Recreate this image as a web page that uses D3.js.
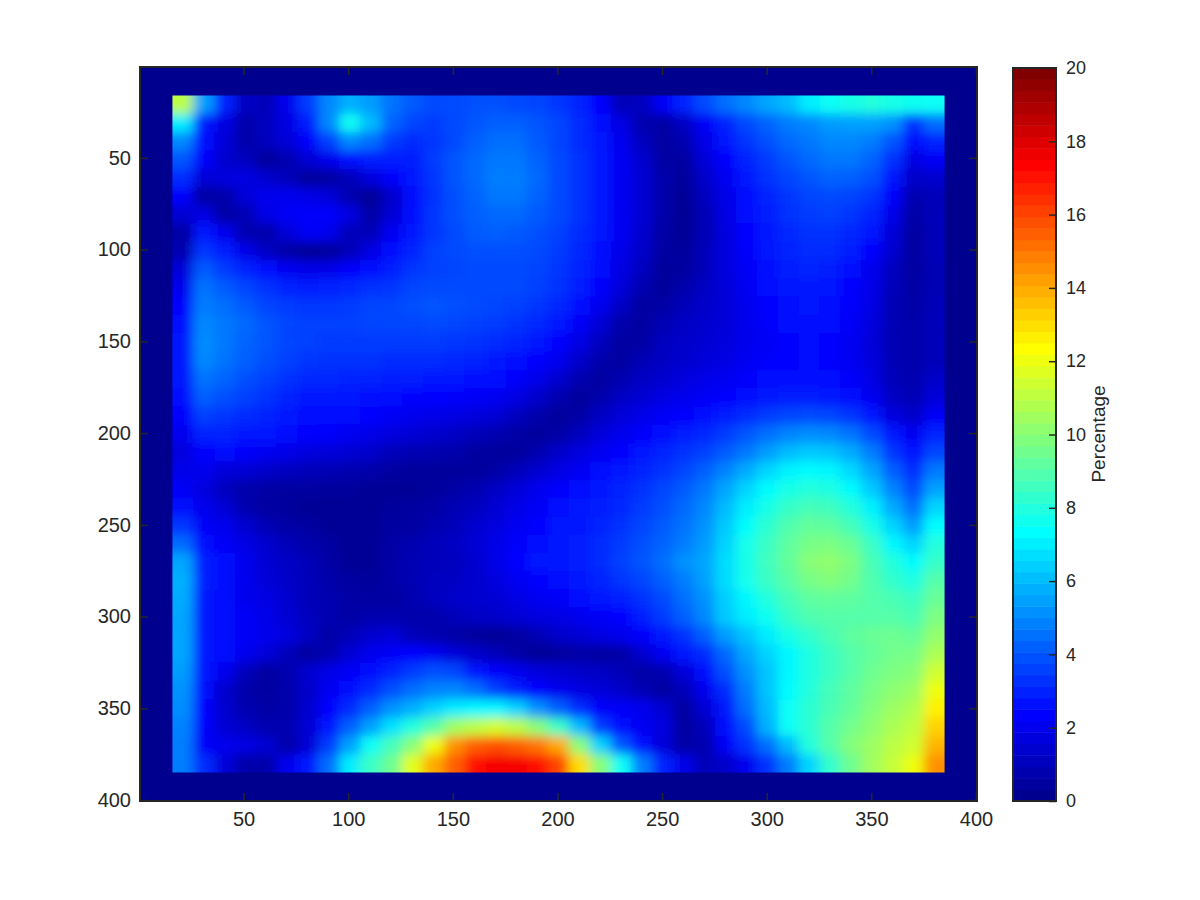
<!DOCTYPE html>
<html><head><meta charset="utf-8">
<script src="https://cdn.jsdelivr.net/npm/d3@7"></script>
<style>html,body{margin:0;background:#fff}svg{display:block}text{font-family:"Liberation Sans",Arial,sans-serif;fill:#262626}</style>
</head><body><svg id="c" width="1200" height="900"></svg>
<script>
const xTicks=[50,100,150,200,250,300,350,400];
const yTicks=[50,100,150,200,250,300,350,400];
const cbTicks=[0,2,4,6,8,10,12,14,16,18,20];
const cbLabel="Percentage";
const jetStops=[0.156,2.34,7.34,12.34,17.34,19.84];
const jetColors=["#00008f","#0000ff","#00ffff","#ffff00","#ff0000","#800000"];
const gridRows=[
[11,5.5,3,1.2,1,2,3.5,5,5.8,5.4,4.6,4.1,3.8,3.8,3.9,3.9,3.8,3.7,3.4,3,2.3,1,1.1,2.2,3,3.8,4.5,5,5.6,6,7,7.5,7.8,8,7.8,7.6,7.5],
[7,2.8,1.8,.7,1.1,1.8,2.9,5,7.6,6,4.3,3.7,3.5,3.8,4,4.2,4.2,4,3.7,3.2,2.6,1.8,.8,.6,1.2,2.2,3,3.8,4.3,4.8,5,5.4,5.5,5.5,5.2,3.3,4.5],
[5,2.6,1.6,.7,1.1,1.6,2.3,3.6,5,4.5,3.5,3.2,3.4,3.8,4.2,4.5,4.5,4.1,3.7,3.2,2.8,2,1.1,.5,.8,1.9,2.7,3.4,3.9,4.4,4.7,5,5,4.8,4,2.6,3],
[4,2.3,1.4,1.1,.4,.8,1.5,2,2.6,2.9,2.9,2.9,3.5,4,4.4,4.7,4.7,4.3,3.8,3.3,2.8,2.1,1.4,.6,.5,1.6,2.4,3,3.5,4,4.4,4.7,4.7,4.3,3.3,1.8,2.2],
[3.2,1.6,1.7,1.8,1.4,1,.4,.5,1,1.7,2.3,2.7,3.4,4,4.4,4.8,4.8,4.4,3.8,3.3,2.8,2.1,1.5,.7,.4,1.3,2.1,2.8,3.3,3.7,4,4.3,4.2,3.9,2.8,1.3,1.4],
[2.3,.5,.7,1.6,2,2,1.9,1.6,.8,.3,1.3,2.5,3.3,3.9,4.3,4.7,4.7,4.3,3.8,3.3,2.8,2.1,1.5,.7,.3,1.1,1.9,2.6,3,3.4,3.7,3.8,3.7,3.4,2.3,.8,1],
[1.5,1.8,.6,.9,1.9,2.2,2.3,2.3,1.8,.6,1.5,2.6,3.4,3.9,4.2,4.4,4.4,4.1,3.8,3.3,2.8,2.1,1.5,.7,.3,.9,1.8,2.5,2.9,3.3,3.5,3.6,3.4,3,1.9,.6,1],
[.6,2.8,2,.8,.7,1.6,2.2,2,1,1,2.1,2.8,3.4,3.8,4.1,4.2,4.1,3.9,3.6,3.2,2.7,2.1,1.4,.6,.3,.9,1.7,2.4,2.8,3.1,3.3,3.3,3.1,2.7,1.6,.5,1],
[.8,3.4,2.9,1.9,1.2,.6,.3,.4,1,1.8,2.6,3,3.6,3.8,3.9,3.9,3.9,3.8,3.5,3.1,2.6,1.9,1.3,.5,.4,1,1.7,2.3,2.7,3,3.2,3.2,2.9,2.4,1.4,.5,1],
[1.6,4.1,3.5,3,2.6,2.1,1.9,1.9,2.3,2.6,2.9,3.4,3.6,3.7,3.8,3.8,3.8,3.7,3.4,3,2.5,1.8,1.1,.4,.5,1,1.7,2.2,2.6,2.9,3,2.9,2.6,2,1.1,.5,.9],
[2,4.6,4.1,3.7,3.3,3,2.9,3,3.1,3.3,3.4,3.7,3.8,3.8,3.8,3.8,3.8,3.6,3.3,2.9,2.3,1.6,.8,.4,.7,1.2,1.6,2.1,2.5,2.7,2.8,2.7,2.4,1.9,1,.6,.9],
[2.3,4.8,4.5,4.1,3.7,3.5,3.4,3.4,3.5,3.7,3.7,3.9,4,3.9,3.8,3.7,3.6,3.4,3.1,2.6,2,1.2,.5,.6,1,1.3,1.6,2,2.4,2.6,2.7,2.6,2.3,1.8,.9,.6,1],
[2.6,5,4.7,4.4,4,3.7,3.6,3.6,3.6,3.7,3.7,3.7,3.8,3.7,3.6,3.5,3.3,3.1,2.8,2.2,1.5,.7,.5,.9,1.2,1.4,1.6,2,2.3,2.5,2.6,2.5,2.2,1.7,.9,.7,1],
[2.8,5.1,4.7,4.3,4,3.7,3.6,3.5,3.5,3.5,3.5,3.5,3.5,3.4,3.3,3.2,3,2.8,2.4,1.8,1.1,.5,.6,1.1,1.3,1.5,1.7,2,2.2,2.4,2.5,2.4,2.1,1.6,.9,.7,1],
[2.8,5,4.6,4.2,3.9,3.6,3.4,3.3,3.3,3.3,3.2,3.2,3.2,3.1,3,2.8,2.6,2.4,2,1.3,.7,.5,.9,1.2,1.4,1.6,1.8,2.1,2.3,2.4,2.5,2.4,2.1,1.7,.9,.7,1],
[2.7,4.6,4.3,3.9,3.6,3.3,3.1,3.1,3,3,2.9,2.9,2.8,2.7,2.6,2.5,2.3,1.9,1.4,.8,.5,.8,1.2,1.4,1.7,1.9,2.1,2.3,2.5,2.6,2.6,2.5,2.3,1.8,1,.8,1.3],
[2.5,4.2,3.9,3.6,3.3,3,2.8,2.7,2.7,2.6,2.5,2.4,2.4,2.3,2.2,2.1,1.8,1.3,.8,.4,.7,1.2,1.5,1.8,2,2.2,2.4,2.6,2.8,2.9,2.9,2.8,2.6,2.1,1.2,.9,1.6],
[2.3,3.6,3.4,3.2,3,2.8,2.6,2.5,2.5,2.4,2.2,2,1.9,1.8,1.7,1.5,1.1,.7,.4,.6,1.2,1.6,1.9,2.2,2.4,2.6,2.9,3.2,3.5,3.7,3.8,3.7,3.4,2.8,1.7,1.3,2.2],
[2,3,3,2.8,2.7,2.5,2.4,2.3,2.1,1.9,1.7,1.5,1.4,1.2,1,.8,.6,.4,.6,1.1,1.6,2,2.3,2.6,2.9,3.1,3.5,4,4.5,4.9,5.1,5,4.6,3.8,2.7,2.1,3],
[1.7,2.4,2.5,2.3,2.1,1.9,1.7,1.6,1.5,1.3,1,.9,.8,.7,.5,.4,.4,.8,1.3,1.7,2.1,2.4,2.7,3,3.3,3.6,4.1,4.7,5.4,6,6.3,6.2,5.7,4.8,3.4,2.6,3.7],
[1.9,2,1.6,1.5,1.3,1.1,1,.9,.8,.7,.5,.4,.4,.4,.4,.6,1,1.4,1.8,2.1,2.5,2.7,3,3.3,3.7,4.2,4.9,5.7,6.5,7.1,7.3,7.2,6.6,5.6,4.2,3.2,4.7],
[2.2,1.7,1.1,.7,.6,.5,.5,.4,.4,.3,.3,.3,.4,.6,.8,1.2,1.6,2,2.3,2.6,2.8,3,3.3,3.7,4.1,4.7,5.6,6.5,7.3,7.8,8,7.9,7.3,6.3,4.9,3.8,5.5],
[2.6,2,1.5,.8,.5,.4,.3,.3,.3,.3,.4,.5,.6,.9,1.1,1.5,1.9,2.2,2.5,2.7,2.9,3.1,3.5,3.9,4.4,5,6,7,7.8,8.4,8.7,8.6,8,7.1,5.7,4.5,6.5],
[3.4,2.2,2,1.4,.9,.6,.5,.3,.3,.3,.5,.5,.8,1,1.4,1.7,2.1,2.4,2.7,2.8,3,3.3,3.7,4.1,4.6,5.2,6.3,7.4,8.2,8.9,9.3,9.2,8.7,7.8,6.5,5.4,7.3],
[4.4,2.5,2.2,1.8,1.4,1,.7,.5,.3,.3,.6,.8,1,1.2,1.5,1.9,2.3,2.6,2.8,2.9,3.2,3.5,3.9,4.3,4.8,5.4,6.5,7.7,8.5,9.2,9.7,9.8,9.4,8.5,7.2,6.5,8],
[5.6,2.9,2.5,2,1.5,1.2,1,.6,.3,.3,.6,.9,1,1.1,1.4,1.9,2.4,2.7,2.8,2.9,3.2,3.6,4,4.5,5.2,5.6,6.7,7.8,8.6,9.3,10,10.2,9.8,8.8,8,7.3,8.4],
[5.8,2.9,2.5,2,1.6,1.3,1,.7,.5,.4,.6,.9,1.1,1.2,1.4,1.7,2.1,2.4,2.5,2.8,3,3.4,3.7,4.2,4.8,5.5,6.7,7.7,8.5,9.1,9.7,9.9,9.6,8.9,8.3,7.9,9],
[5.7,2.8,2.5,2,1.8,1.4,1,.8,.6,.5,.5,.8,1.1,1.3,1.4,1.5,1.8,2.1,2.2,2.5,2.7,2.9,3.3,3.8,4.5,5.2,6.4,7.2,8,8.7,9.2,9.3,9.2,9,8.8,8.5,9.4],
[5.6,2.7,2.5,2.2,1.9,1.5,1.1,.8,.6,.8,.8,.7,.7,1,1.2,1.3,1.5,1.7,1.8,2,2.2,2.4,2.9,3.5,4.2,5,6.3,7,7.6,8.4,8.9,9,9,9,9,8.8,9.8],
[5.6,2.7,2.5,2.2,2,1.7,1.2,.6,1,1.4,1.6,1,.8,.6,.4,.3,.5,.9,1.3,1.5,1.8,2,2.3,2.8,3.3,4.2,5.4,6.2,7,7.8,8.3,8.8,9.2,9.4,9.5,9.3,10.2],
[5.6,2.7,2.5,2,1.6,1,.5,.8,1.5,2,2.2,2.4,2.1,1.6,1.3,1,.6,.3,.4,.6,.5,.6,1.4,2.1,2.7,3.2,4.4,5.6,6.5,7.2,7.9,8.5,9,9.3,9.6,9.7,10.7],
[5.4,2.7,2,1,.5,.8,1.4,1.9,2.2,2.6,3,3.5,3.9,3.7,2.8,2.3,2,1.7,1.5,1.3,1.2,1,.6,.8,1.6,2.6,3.9,5.2,6.2,7.2,7.9,8.5,9,9.5,9.8,10,11.4],
[5.2,2.5,1.4,.7,.5,.7,1.3,2.1,2.6,3.2,3.9,4.5,4.9,5,4.5,3.6,2.9,2.4,2,1.8,1.6,1.3,.9,.5,1,2,3.2,4.8,6.2,7.3,8,8.7,9.2,9.7,10.1,10.4,12],
[5.1,2.4,1.4,.8,.6,.7,1.4,2.4,3.2,4.2,5.2,5.8,6.5,7,7.2,7.2,6.5,5.2,4.2,3.2,2.3,2.2,2,1.5,.5,1.5,2.8,4.5,6,7.5,8.2,8.8,9.3,9.9,10.4,10.8,12.6],
[4.9,2.3,1.5,1.2,.8,.8,1.5,2.8,4.2,5.5,6.8,8,9,10.5,11,11.5,11,10,8.5,6,3.5,2.5,2.1,1.7,.5,1,2.5,3.8,5.8,7.5,8.2,9,9.6,10.1,10.7,11.1,13.2],
[4.8,2.2,2,1.8,1.5,.7,1.5,3.5,5.5,7.5,8.7,10,12,14.5,15.5,15.8,15.5,15,14,10,6.5,4,2.5,1.6,.6,.8,2.2,3.3,4.5,6,8,9,9.9,10.4,11,11.4,13.8],
[4.8,3.2,1.6,.7,.7,2,2.8,4.5,7,8.5,9.5,11.8,14,15.5,17,17.5,17.5,17,16,13,10,7.5,4.8,3,1.9,1,1.3,2,3.3,4.8,6.5,8.3,9.5,10.5,11.2,12,14.5]
];
const gridStart=16, gridEnd=385;

const svg=d3.select("#c");
const ink="#262626";
const x=d3.scaleLinear().domain([0.5,400.5]).range([140,977]);
const y=d3.scaleLinear().domain([0.5,400.5]).range([67,801]);
const jet=d3.scaleLinear().domain(jetStops).range(jetColors).clamp(true);
const cx=d3.scaleBand().domain(d3.range(gridRows[0].length)).range([x(gridStart),x(gridEnd)]);
const cy=d3.scaleBand().domain(d3.range(gridRows.length)).range([y(gridStart),y(gridEnd)]);
const defs=svg.append("defs");
defs.append("clipPath").attr("id","dataClip").append("rect")
  .attr("x",x(gridStart)).attr("y",y(gridStart))
  .attr("width",x(gridEnd)-x(gridStart)).attr("height",y(gridEnd)-y(gridStart));
defs.append("filter").attr("id","soft").attr("filterUnits","userSpaceOnUse")
  .attr("x",0).attr("y",0).attr("width",1200).attr("height",900)
  .append("feGaussianBlur").attr("stdDeviation","6 5.2");

svg.append("rect").attr("x",x.range()[0]).attr("y",y.range()[0])
  .attr("width",x.range()[1]-x.range()[0]).attr("height",y.range()[1]-y.range()[0]).attr("fill",jet(0));

const nR=gridRows.length,nC=gridRows[0].length,pad=30;
const cells=gridRows.flatMap((r,i)=>r.map((v,j)=>({i,j,v})));
svg.append("g").attr("clip-path","url(#dataClip)").append("g").attr("filter","url(#soft)")
  .selectAll("rect").data(cells).join("rect")
  .attr("x",d=>cx(d.j)-(d.j===0?pad:0))
  .attr("y",d=>cy(d.i)-(d.i===0?pad:0))
  .attr("width",d=>cx.bandwidth()+.5+((d.j===0||d.j===nC-1)?pad:0))
  .attr("height",d=>cy.bandwidth()+.5+((d.i===0||d.i===nR-1)?pad:0))
  .attr("fill",d=>jet(d.v));

function style(g,fs){
  g.select(".domain").remove();
  g.selectAll("line").attr("stroke",ink).attr("stroke-width",1.5);
  g.selectAll("text").attr("font-size",fs);
}
const tick=8;
svg.append("g").attr("transform",`translate(0,${y.range()[1]})`)
  .call(d3.axisBottom(x).tickValues(xTicks).tickSizeInner(-tick).tickSizeOuter(0).tickPadding(11))
  .call(g=>style(g,20));
svg.append("g").attr("transform",`translate(0,${y.range()[0]})`)
  .call(d3.axisTop(x).tickValues(xTicks).tickSizeInner(-tick).tickSizeOuter(0).tickFormat(""))
  .call(g=>style(g,20));
svg.append("g").attr("transform",`translate(${x.range()[0]},0)`)
  .call(d3.axisLeft(y).tickValues(yTicks).tickSizeInner(-tick).tickSizeOuter(0).tickPadding(9))
  .call(g=>style(g,20));
svg.append("g").attr("transform",`translate(${x.range()[1]},0)`)
  .call(d3.axisRight(y).tickValues(yTicks).tickSizeInner(-tick).tickSizeOuter(0).tickFormat(""))
  .call(g=>style(g,20));
svg.append("rect").attr("x",140).attr("y",67).attr("width",837).attr("height",734)
  .attr("fill","none").attr("stroke",ink).attr("stroke-width",2);

// colour bar
const cb=d3.scaleLinear().domain(d3.extent(cbTicks)).range([801,68]);
const bands=d3.range(64);
const band=d3.scaleBand().domain(bands).range([801,68]);
svg.append("g").selectAll("rect").data(bands).join("rect")
  .attr("x",1013).attr("width",43)
  .attr("y",d=>band(d)).attr("height",band.bandwidth()+.5)
  .attr("fill",d=>jet((d+.5)/64*20));
svg.append("g").attr("transform","translate(1056,0)")
  .call(d3.axisRight(cb).tickValues(cbTicks).tickSizeInner(-7).tickSizeOuter(0).tickPadding(10))
  .call(g=>style(g,18));
svg.append("rect").attr("x",1013).attr("y",68).attr("width",43).attr("height",733)
  .attr("fill","none").attr("stroke",ink).attr("stroke-width",2);
svg.append("text").attr("transform","translate(1100,434) rotate(-90)")
  .attr("text-anchor","middle").attr("dominant-baseline","middle").attr("font-size",19).text(cbLabel);
</script></body></html>
